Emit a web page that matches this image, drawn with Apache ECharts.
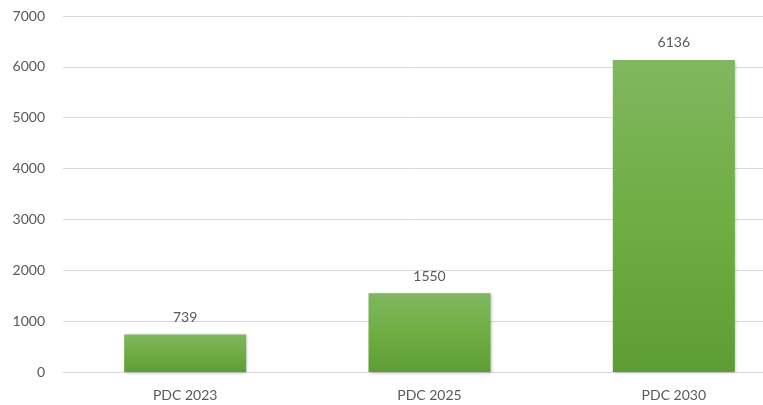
<!DOCTYPE html>
<html>
<head>
<meta charset="utf-8">
<script src="https://cdn.jsdelivr.net/npm/echarts@6/dist/echarts.min.js"></script>
<style>
  html, body { margin: 0; padding: 0; background: #fff; overflow: hidden; }
  #chart { width: 763px; height: 405px; }
</style>
</head>
<body>
<div id="chart"></div>
<script>
// data
const categories = ['PDC 2023', 'PDC 2025', 'PDC 2030'];
const values = [739, 1550, 6136];
const yTicks = [0, 7000, 1000]; // min, max, interval

const chart = echarts.init(document.getElementById('chart'));
const textColor = '#595959';
const font = 'Lato, "Open Sans", sans-serif';

chart.setOption({
    animation: false,
    // the plot runs past the right edge of the picture
    grid: { left: 63, width: 733, top: 16, bottom: 33, outerBoundsMode: 'none', containLabel: false },
    xAxis: {
        type: 'category',
        data: categories,
        axisTick: { show: false },
        axisLine: { lineStyle: { color: '#d9d9d9', width: 1 } },
        axisLabel: { color: textColor, fontSize: 14, fontFamily: font, margin: 16 }
    },
    yAxis: {
        type: 'value',
        min: yTicks[0], max: yTicks[1], interval: yTicks[2],
        axisLine: { show: false },
        axisTick: { show: false },
        axisLabel: {
            color: textColor, fontSize: 14, fontFamily: font, margin: 18,
            formatter: (v) => String(v)
        },
        splitLine: { lineStyle: { color: '#d9d9d9', width: 1 } }
    },
    series: [{
        type: 'bar',
        data: values,
        barWidth: 122,
        itemStyle: {
            color: new echarts.graphic.LinearGradient(0, 0, 0, 1, [
                { offset: 0, color: '#80b760' },
                { offset: 0.5, color: '#6eae43' },
                { offset: 1, color: '#5d9d33' }
            ]),
            shadowColor: 'rgba(0,0,0,0.25)',
            shadowBlur: 3,
            shadowOffsetX: 1,
            shadowOffsetY: 1
        },
        label: {
            show: true,
            position: 'top',
            distance: 10,
            color: textColor,
            fontSize: 14,
            fontFamily: font
        }
    }]
});
</script>
</body>
</html>
